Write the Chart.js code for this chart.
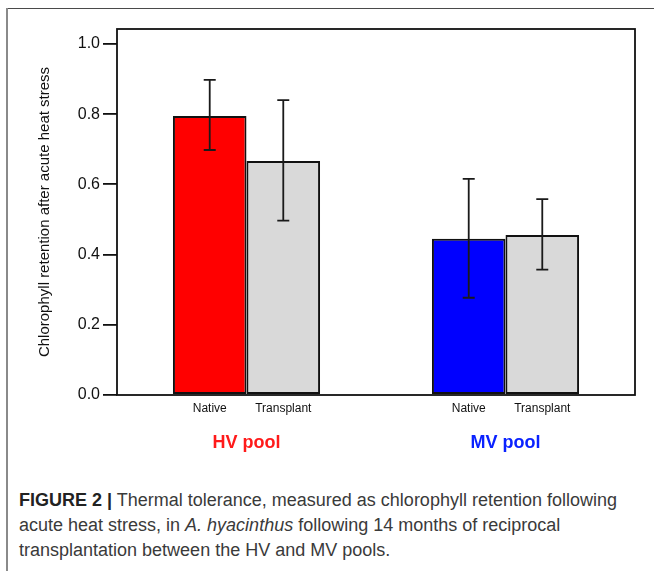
<!DOCTYPE html>
<html lang="en">
<head>
  <meta charset="UTF-8" />
  <title>Thermal tolerance</title>
  <script src="https://cdn.jsdelivr.net/npm/chart.js"></script>
  <style>
    body { margin: 0; background: #fff; }
    #wrap { position: relative; width: 654px; height: 571px; overflow: hidden; }
    #frameTop { position: absolute; left: 7px; top: 8px; width: 647px; height: 1px; background: #4a4a4a; }
    #frameLeft { position: absolute; left: 6px; top: 8px; width: 2px; height: 563px; background: #8a8a8a; }
    #chart { position: absolute; left: 0; top: 0; }
    #caption {
      position: absolute; left: 19px; top: 488px;
      font-family: "Liberation Sans", Arial, sans-serif; font-size: 18px; line-height: 25px;
      color: #3a3a3a; white-space: nowrap;
    }
    #caption b { color: #222; }
  </style>
</head>
<body>
  <div id="wrap">
    <div id="frameTop"></div>
    <div id="frameLeft"></div>
    <canvas id="chart" width="654" height="470"></canvas>
    <div id="caption">
      <b>FIGURE 2 |</b> Thermal tolerance, measured as chlorophyll retention following<br>
      acute heat stress, in <i>A. hyacinthus</i> following 14 months of reciprocal<br>
      transplantation between the HV and MV pools.
    </div>
  </div>

  <script>
    // data
    const groups = ['HV pool', 'MV pool'];
    const groupColors = ['#ff1a1a', '#0a22ff'];
    const nativeMean = [0.795, 0.445];
    const nativeLow = [0.698, 0.277];
    const nativeHigh = [0.898, 0.616];
    const transplantMean = [0.667, 0.456];
    const transplantLow = [0.497, 0.357];
    const transplantHigh = [0.840, 0.558];
    const yTicks = [0, 0.2, 0.4, 0.6, 0.8, 1.0];

    const font = '"Liberation Sans", Arial, sans-serif';

    // error bars for each bar
    const errorBars = {
      id: 'errorBars',
      afterDatasetsDraw(chart) {
        const { ctx, scales: { y } } = chart;
        ctx.save();
        ctx.strokeStyle = '#1a1a1a';
        ctx.lineWidth = 1.8;
        chart.data.datasets.forEach((ds, di) => {
          chart.getDatasetMeta(di).data.forEach((bar, i) => {
            const top = y.getPixelForValue(ds.errHigh[i]);
            const bot = y.getPixelForValue(ds.errLow[i]);
            ctx.beginPath();
            ctx.moveTo(bar.x, top); ctx.lineTo(bar.x, bot);
            ctx.moveTo(bar.x - 6, top); ctx.lineTo(bar.x + 6, top);
            ctx.moveTo(bar.x - 6, bot); ctx.lineTo(bar.x + 6, bot);
            ctx.stroke();
          });
        });
        ctx.restore();
      }
    };

    // box around the plot + treatment names under bars
    const frameAndLabels = {
      id: 'frameAndLabels',
      afterDraw(chart) {
        const { ctx, chartArea: a } = chart;
        ctx.save();
        ctx.strokeStyle = '#111';
        ctx.lineWidth = 1.8;
        ctx.strokeRect(a.left, a.top, a.right - a.left, a.bottom - a.top);
        ctx.fillStyle = '#111';
        ctx.font = '12px ' + font;
        ctx.textAlign = 'center';
        ctx.textBaseline = 'middle';
        chart.data.datasets.forEach((ds, di) => {
          chart.getDatasetMeta(di).data.forEach(bar => {
            ctx.fillText(ds.label, bar.x, a.bottom + 14);
          });
        });
        ctx.restore();
      }
    };

    new Chart(document.getElementById('chart'), {
      type: 'bar',
      data: {
        labels: groups,
        datasets: [
          {
            label: 'Native',
            data: nativeMean,
            errLow: nativeLow,
            errHigh: nativeHigh,
            backgroundColor: ['#ff0000', '#0000ff'],
            borderColor: '#111',
            borderWidth: 2,
            borderSkipped: false,
            categoryPercentage: 0.568,
            barPercentage: 1
          },
          {
            label: 'Transplant',
            data: transplantMean,
            errLow: transplantLow,
            errHigh: transplantHigh,
            backgroundColor: '#d9d9d9',
            borderColor: '#111',
            borderWidth: 2,
            borderSkipped: false,
            categoryPercentage: 0.568,
            barPercentage: 1
          }
        ]
      },
      options: {
        responsive: false,
        animation: false,
        devicePixelRatio: 1,
        layout: { padding: { top: 29, right: 19, left: 0, bottom: 0 } },
        plugins: { legend: { display: false }, tooltip: { enabled: false } },
        scales: {
          x: {
            grid: { display: false, drawTicks: false },
            border: { display: false },
            ticks: {
              padding: 37,
              color: ctx => groupColors[ctx.index],
              font: { family: font, size: 18, weight: 'bold' }
            },
            afterFit(scale) { scale.height = 75; }
          },
          y: {
            min: 0,
            max: 1.0427,
            grid: { drawOnChartArea: false, drawTicks: true, tickLength: 14, color: '#111', lineWidth: 1.8 },
            border: { display: false },
            afterBuildTicks(scale) { scale.ticks = yTicks.map(v => ({ value: v })); },
            ticks: {
              padding: 3,
              color: '#111',
              font: { family: font, size: 16 },
              callback: v => v.toFixed(1)
            },
            title: {
              display: true,
              text: 'Chlorophyll retention after acute heat stress',
              color: '#111',
              font: { family: font, size: 15 },
              padding: { top: 36, bottom: 0 }
            },
            afterFit(scale) { scale.width = 117; }
          }
        }
      },
      plugins: [errorBars, frameAndLabels]
    });
  </script>
</body>
</html>
